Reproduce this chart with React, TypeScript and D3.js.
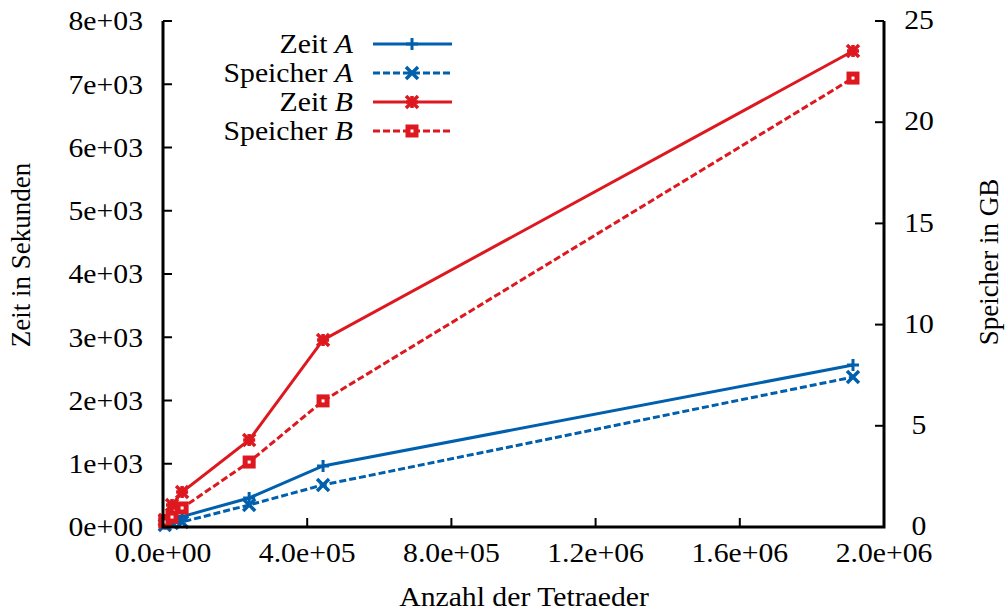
import * as d3 from "d3";

// Anzahl der Tetraeder (x) and the four measured series
const tetraeder = [5000, 25000, 53000, 239000, 444000, 1914000];
const zeitA = [50, 110, 165, 459, 965, 2561];
const speicherA = [0.1, 0.2, 0.25, 1.09, 2.08, 7.41];
const zeitB = [110, 348, 553, 1375, 2957, 7526];
const speicherB = [0.25, 0.49, 0.94, 3.21, 6.23, 22.18];

const xTicks = [0, 400000, 800000, 1200000, 1600000, 2000000];
const xTickLabels = ["0.0e+00", "4.0e+05", "8.0e+05", "1.2e+06", "1.6e+06", "2.0e+06"];
const yTicks = [0, 1000, 2000, 3000, 4000, 5000, 6000, 7000, 8000];
const yTickLabels = ["0e+00", "1e+03", "2e+03", "3e+03", "4e+03", "5e+03", "6e+03", "7e+03", "8e+03"];
const y2Ticks = [0, 5, 10, 15, 20, 25];

const BLUE = "#0060ad";
const RED = "#dd181f";
const FONT = "'Liberation Serif', 'Times New Roman', serif";
const SX = 1.1; // the reference text is a little wider than Times

const W = 1005, H = 614;
const margin = { left: 163, right: 121, top: 21, bottom: 87 };

// horizontal text, stretched a bit in x
function T({ x, y, anchor = "start", dy = "0", children }) {
  return (
    <text transform={`translate(${x},${y}) scale(${SX},1)`} dy={dy} textAnchor={anchor} fontSize={27}>
      {children}
    </text>
  );
}

function Marker({ kind, x, y, color }) {
  const s = 6;
  if (kind === "plus") {
    return <path d={`M${x - s},${y}H${x + s}M${x},${y - s}V${y + s}`} stroke={color} strokeWidth={3} />;
  }
  if (kind === "cross") {
    return <path d={`M${x - s},${y - s}L${x + s},${y + s}M${x - s},${y + s}L${x + s},${y - s}`} stroke={color} strokeWidth={3.5} />;
  }
  if (kind === "star") {
    return (
      <g>
        <path d={`M${x - s},${y}H${x + s}M${x},${y - s}V${y + s}M${x - s},${y - s}L${x + s},${y + s}M${x - s},${y + s}L${x + s},${y - s}`} stroke={color} strokeWidth={3.5} />
        <rect x={x - 4} y={y - 4} width={8} height={8} fill={color} />
      </g>
    );
  }
  return <rect x={x - 4} y={y - 4} width={8} height={8} fill="white" stroke={color} strokeWidth={5} />;
}

export default function App() {
  const x = d3.scaleLinear().domain([0, 2000000]).range([margin.left, W - margin.right]);
  const y = d3.scaleLinear().domain([0, 8000]).range([H - margin.bottom, margin.top]);
  const y2 = d3.scaleLinear().domain([0, 25]).range([H - margin.bottom, margin.top]);

  const series = [
    { name: "Zeit", sub: "A", values: zeitA, scale: y, color: BLUE, dash: null, marker: "plus" },
    { name: "Speicher", sub: "A", values: speicherA, scale: y2, color: BLUE, dash: "7,3", marker: "cross" },
    { name: "Zeit", sub: "B", values: zeitB, scale: y, color: RED, dash: null, marker: "star" },
    { name: "Speicher", sub: "B", values: speicherB, scale: y2, color: RED, dash: "7,3", marker: "square" },
  ];

  const x0 = margin.left, x1 = W - margin.right, yb = H - margin.bottom, yt = margin.top;

  return (
    <svg width={W} height={H} style={{ position: "absolute", left: 0, top: 0, background: "white" }} fontFamily={FONT}>
      <rect width={W} height={H} fill="white" />
      {/* data */}
      {series.map((s, i) => {
        const line = d3.line().x((d) => x(d[0])).y((d) => s.scale(d[1]));
        const pts = tetraeder.map((t, j) => [t, s.values[j]]);
        return (
          <g key={i}>
            <path d={line(pts)} fill="none" stroke={s.color} strokeWidth={3} strokeDasharray={s.dash || undefined} />
            {pts.map((p, j) => <Marker key={j} kind={s.marker} x={x(p[0])} y={s.scale(p[1])} color={s.color} />)}
          </g>
        );
      })}
      {/* axes */}
      <path d={`M${x0},${yt}V${yb}H${x1}V${yt}`} fill="none" stroke="black" strokeWidth={3} />
      {yTicks.map((t, i) => (
        <g key={"y" + i}>
          <line x1={x0} x2={x0 + 9} y1={y(t)} y2={y(t)} stroke="black" strokeWidth={2} />
          <T x={143} y={y(t)} dy="0.35em" anchor="end">{yTickLabels[i]}</T>
        </g>
      ))}
      {y2Ticks.map((t, i) => (
        <g key={"y2" + i}>
          <line x1={x1} x2={x1 - 9} y1={y2(t)} y2={y2(t)} stroke="black" strokeWidth={2} />
          <T x={919} y={y2(t)} dy="0.3em" anchor="middle">{t}</T>
        </g>
      ))}
      {xTicks.map((t, i) => (
        <g key={"x" + i}>
          <line x1={x(t)} x2={x(t)} y1={yb} y2={yb - 9} stroke="black" strokeWidth={2} />
          <T x={x(t)} y={562} anchor="middle">{xTickLabels[i]}</T>
        </g>
      ))}
      <T x={524} y={606} anchor="middle">Anzahl der Tetraeder</T>
      <text transform="translate(30,255) rotate(-90)" textAnchor="middle" fontSize={27}>Zeit in Sekunden</text>
      <text transform="translate(998,262) rotate(-90)" textAnchor="middle" fontSize={27}>Speicher in GB</text>
      {/* legend */}
      {series.map((s, i) => {
        const ly = 44 + i * 29;
        return (
          <g key={"l" + i}>
            <T x={353} y={ly} dy="0.35em" anchor="end">
              {s.name} <tspan fontStyle="italic">{s.sub}</tspan>
            </T>
            <line x1={373} x2={452} y1={ly} y2={ly} stroke={s.color} strokeWidth={3} strokeDasharray={s.dash || undefined} />
            <Marker kind={s.marker} x={412} y={ly} color={s.color} />
          </g>
        );
      })}
    </svg>
  );
}
